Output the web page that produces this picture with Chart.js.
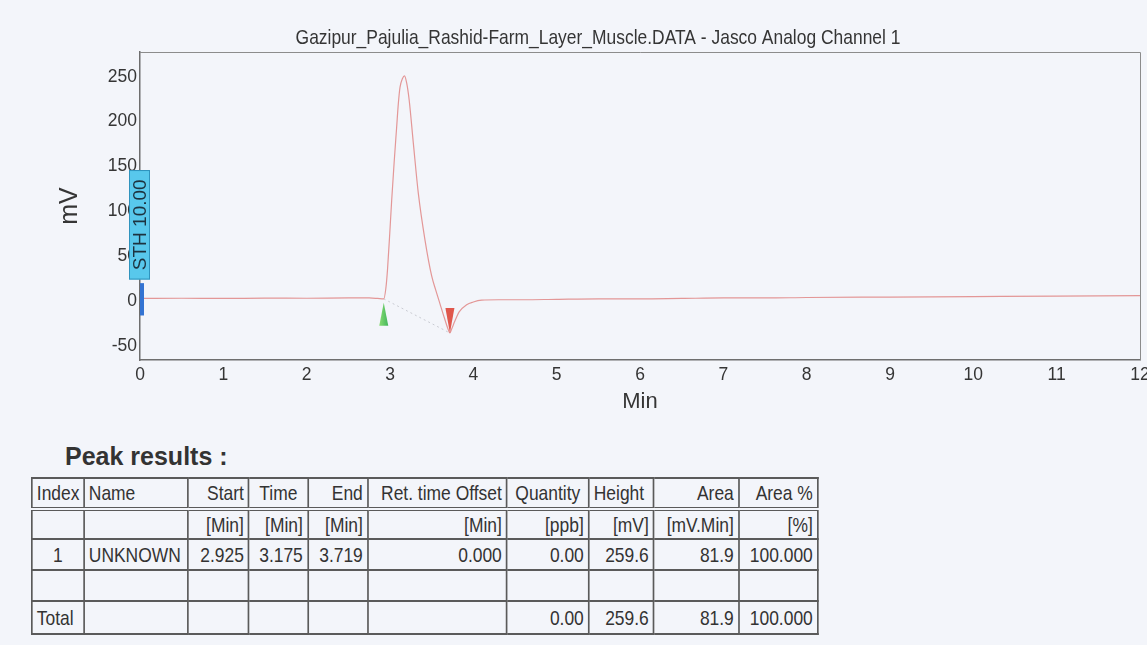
<!DOCTYPE html>
<html>
<head>
<meta charset="utf-8">
<script src="https://cdn.jsdelivr.net/npm/chart.js@4.4.1/dist/chart.umd.min.js"></script>
<style>
  html, body { margin:0; padding:0; background:#f3f5fa; }
  #page { position:relative; width:1147px; height:645px; overflow:hidden; background:#f3f5fa; }
  #chartWrap { position:absolute; left:0; top:0; width:1147px; height:420px; }
  #peakTitle { position:absolute; left:65px; top:441px; font:bold 25px "Liberation Sans", Arial, sans-serif; line-height:30px; color:#333; white-space:nowrap; }
  #tableWrap { position:absolute; left:31px; top:477px; transform:scaleX(0.83); transform-origin:0 0; }
  #peakTable { border-collapse:collapse; table-layout:fixed;
     font:21px "Liberation Sans", Arial, sans-serif; color:#333; }
  #peakTable td { border:2px solid #5a5a5a; padding:0 5px; white-space:nowrap; overflow:hidden; line-height:22px; }
  #peakTable tr.hdr td { border-bottom:4px double #5a5a5a; }
  .r { text-align:right; } .c { text-align:center; } .l { text-align:left; }
</style>
</head>
<body>
<div id="page">
  <div id="chartWrap"><canvas id="c"></canvas></div>
  <div id="peakTitle">Peak results :</div>
  <div id="tableWrap"><table id="peakTable"></table></div>
</div>
<script>
// ---------------- data ----------------
const chartTitle = "Gazipur_Pajulia_Rashid-Farm_Layer_Muscle.DATA - Jasco Analog Channel 1";
const xAxisTitle = "Min";
const yAxisTitle = "mV";
const xTicks = [0,1,2,3,4,5,6,7,8,9,10,11,12];
const yTicks = [-50,0,50,100,150,200,250];

const timeMin = [0.00,0.50,1.00,1.50,2.00,2.50,2.75,2.85,2.925,2.95,2.97,3.00,3.02,3.05,3.08,3.10,3.12,3.15,3.175,3.20,3.23,3.28,3.34,3.42,3.50,3.55,3.60,3.65,3.70,3.719,3.74,3.78,3.83,3.92,4.00,4.10,4.30,4.60,5.00,5.50,6.00,6.50,7.00,7.50,8.00,9.00,10.00,11.00,12.00];
const signalMV = [3.0,3.2,3.0,3.3,3.2,3.6,3.5,3.0,2.5,14,35,80,112,155,194,220,238,248,251,243,224,176,120,68,28,12,-3,-18,-32,-35.5,-31,-22,-12,-4,-1,1,1.5,1.5,2,2.5,2.5,3,3.5,3.5,4,4.5,5,5.5,6];

const baselineTime = [2.925, 3.719];
const baselineMV = [2.5, -35.5];

const peakStartMin = 2.925;
const peakEndMin = 3.719;
const sthLabel = "STH 10.00";
const sthTime = 0;

const tableHeader = ["Index","Name","Start","Time","End","Ret. time Offset","Quantity","Height","Area","Area %"];
const tableUnits  = ["","","[Min]","[Min]","[Min]","[Min]","[ppb]","[mV]","[mV.Min]","[%]"];
const tableRow1   = ["1","UNKNOWN","2.925","3.175","3.719","0.000","0.00","259.6","81.9","100.000"];
const tableEmpty  = ["","","","","","","","","",""];
const tableTotal  = ["Total","","","","","","0.00","259.6","81.9","100.000"];

// ---------------- table ----------------
const SQUEEZE = 0.83;
const colW = [52,104,61,59,60,139,82,65,85,79];
const hdrAlign = ["c","l","r","c","r","r","c","l","r","r"];
const rowAlign = ["c","l","r","r","r","r","r","r","r","r"];
const rowH = [31,30,31,31,33];
(function buildTable(){
  const t = document.getElementById('peakTable');
  const cg = document.createElement('colgroup');
  let tot = 0;
  colW.forEach(w=>{const c=document.createElement('col'); c.style.width=(w/SQUEEZE)+'px'; tot += w/SQUEEZE; cg.appendChild(c);});
  t.style.width = tot+'px';
  t.appendChild(cg);
  const rows = [tableHeader, tableUnits, tableRow1, tableEmpty, tableTotal];
  rows.forEach((r,ri)=>{
    const tr = document.createElement('tr');
    if (ri===0) tr.className='hdr';
    tr.style.height = rowH[ri]+'px';
    r.forEach((v,ci)=>{
      const td = document.createElement('td');
      let a = ri===0 ? hdrAlign[ci] : rowAlign[ci];
      if (ri===4 && ci===0) a='l';
      td.className = a;
      td.textContent = v;
      tr.appendChild(td);
    });
    t.appendChild(tr);
  });
})();

// ---------------- chart ----------------
const SANS = '"Liberation Sans", Arial, sans-serif';
const TXT = '#353535';

const decorPlugin = {
  id:'decor',
  afterDraw(chart){
    const ctx = chart.ctx, a = chart.chartArea;
    const xs = chart.scales.x, ys = chart.scales.y;
    ctx.save();
    // frame top and right
    ctx.strokeStyle = '#8c8c8c'; ctx.lineWidth = 1;
    ctx.beginPath();
    ctx.moveTo(a.left, a.top+0.5); ctx.lineTo(a.right+0.5, a.top+0.5); ctx.lineTo(a.right+0.5, a.bottom);
    ctx.stroke();
    // title (condensed)
    ctx.save();
    ctx.translate(598, 38); ctx.scale(SQUEEZE, 1);
    ctx.fillStyle = TXT; ctx.font = '21px ' + SANS;
    ctx.textAlign = 'center'; ctx.textBaseline = 'middle';
    ctx.fillText(chartTitle, 0, 0);
    ctx.restore();
    // start marker (green, pointing up)
    const sx = xs.getPixelForValue(peakStartMin);
    const sy = ys.getPixelForValue(baselineMV[0]) + 4;
    let g = ctx.createLinearGradient(sx-5,0,sx+5,0);
    g.addColorStop(0,'#8ade72'); g.addColorStop(1,'#3fb45a');
    ctx.fillStyle = g;
    ctx.beginPath(); ctx.moveTo(sx, sy); ctx.lineTo(sx+4.5, sy+23); ctx.lineTo(sx-4.5, sy+23); ctx.closePath(); ctx.fill();
    // end marker (red, pointing down)
    const ex = xs.getPixelForValue(peakEndMin);
    const ey = ys.getPixelForValue(baselineMV[1]);
    ctx.fillStyle = '#e0574c';
    ctx.beginPath(); ctx.moveTo(ex, ey); ctx.lineTo(ex+4.5, ey-25); ctx.lineTo(ex-4.5, ey-25); ctx.closePath(); ctx.fill();
    // injection bar
    const ix = xs.getPixelForValue(sthTime);
    ctx.fillStyle = '#3373d2';
    ctx.fillRect(ix, ys.getPixelForValue(20), 4, ys.getPixelForValue(-16)-ys.getPixelForValue(20));
    // STH label box
    const bTop = ys.getPixelForValue(146), bBot = ys.getPixelForValue(24);
    ctx.fillStyle = '#58c8ec'; ctx.strokeStyle = '#2f93bd'; ctx.lineWidth = 1;
    ctx.fillRect(ix-11, bTop, 21, bBot-bTop);
    ctx.strokeRect(ix-10.5, bTop+0.5, 20, bBot-bTop-1);
    ctx.translate(ix, (bTop+bBot)/2);
    ctx.rotate(-Math.PI/2);
    ctx.fillStyle = '#1d3340'; ctx.font = '19px ' + SANS;
    ctx.textAlign='center'; ctx.textBaseline='middle';
    ctx.fillText(sthLabel, 0, 1);
    ctx.restore();
  }
};

new Chart(document.getElementById('c'), {
  type:'line',
  data:{
    datasets:[
      { label:'Signal', data: timeMin.map((t,i)=>({x:t, y:signalMV[i]})),
        borderColor:'#e39797', borderWidth:1.2, pointRadius:0, cubicInterpolationMode:'monotone', fill:false },
      { label:'Baseline', data: baselineTime.map((t,i)=>({x:t, y:baselineMV[i]})),
        borderColor:'#c9cbd2', borderWidth:1, borderDash:[2,3], pointRadius:0, fill:false }
    ]
  },
  options:{
    responsive:true, maintainAspectRatio:false, animation:false,
    layout:{ padding:{ top:52, right:7, left:0, bottom:0 } },
    plugins:{ legend:{display:false}, title:{display:false}, tooltip:{enabled:false} },
    scales:{
      x:{
        type:'linear', min:0, max:12,
        afterBuildTicks(s){ s.ticks = xTicks.map(v=>({value:v})); },
        afterFit(s){ s.height = 60; s.paddingLeft = 0; s.paddingRight = 0; },
        grid:{ display:false, drawTicks:false },
        border:{ display:true, color:'#6e6e6e', width:1.5 },
        ticks:{ color:TXT, font:{ family:SANS, size:17.5 }, padding:5, maxRotation:0, autoSkip:false },
        title:{ display:true, text:xAxisTitle, color:TXT, font:{ family:SANS, size:22 }, padding:{ top:0, bottom:5 } }
      },
      y:{
        type:'linear', min:-65.6, max:277.5,
        afterBuildTicks(s){ s.ticks = yTicks.map(v=>({value:v})); },
        afterFit(s){ s.width = 140; s.paddingTop = 0; s.paddingBottom = 0; },
        grid:{ display:false, drawTicks:false },
        border:{ display:true, color:'#6e6e6e', width:1.5 },
        ticks:{ color:TXT, font:{ family:SANS, size:17.5 }, padding:3, autoSkip:false },
        title:{ display:true, text:yAxisTitle, color:TXT, font:{ family:SANS, size:25 }, padding:{ top:55, bottom:0 } }
      }
    }
  },
  plugins:[decorPlugin]
});
</script>
</body>
</html>
